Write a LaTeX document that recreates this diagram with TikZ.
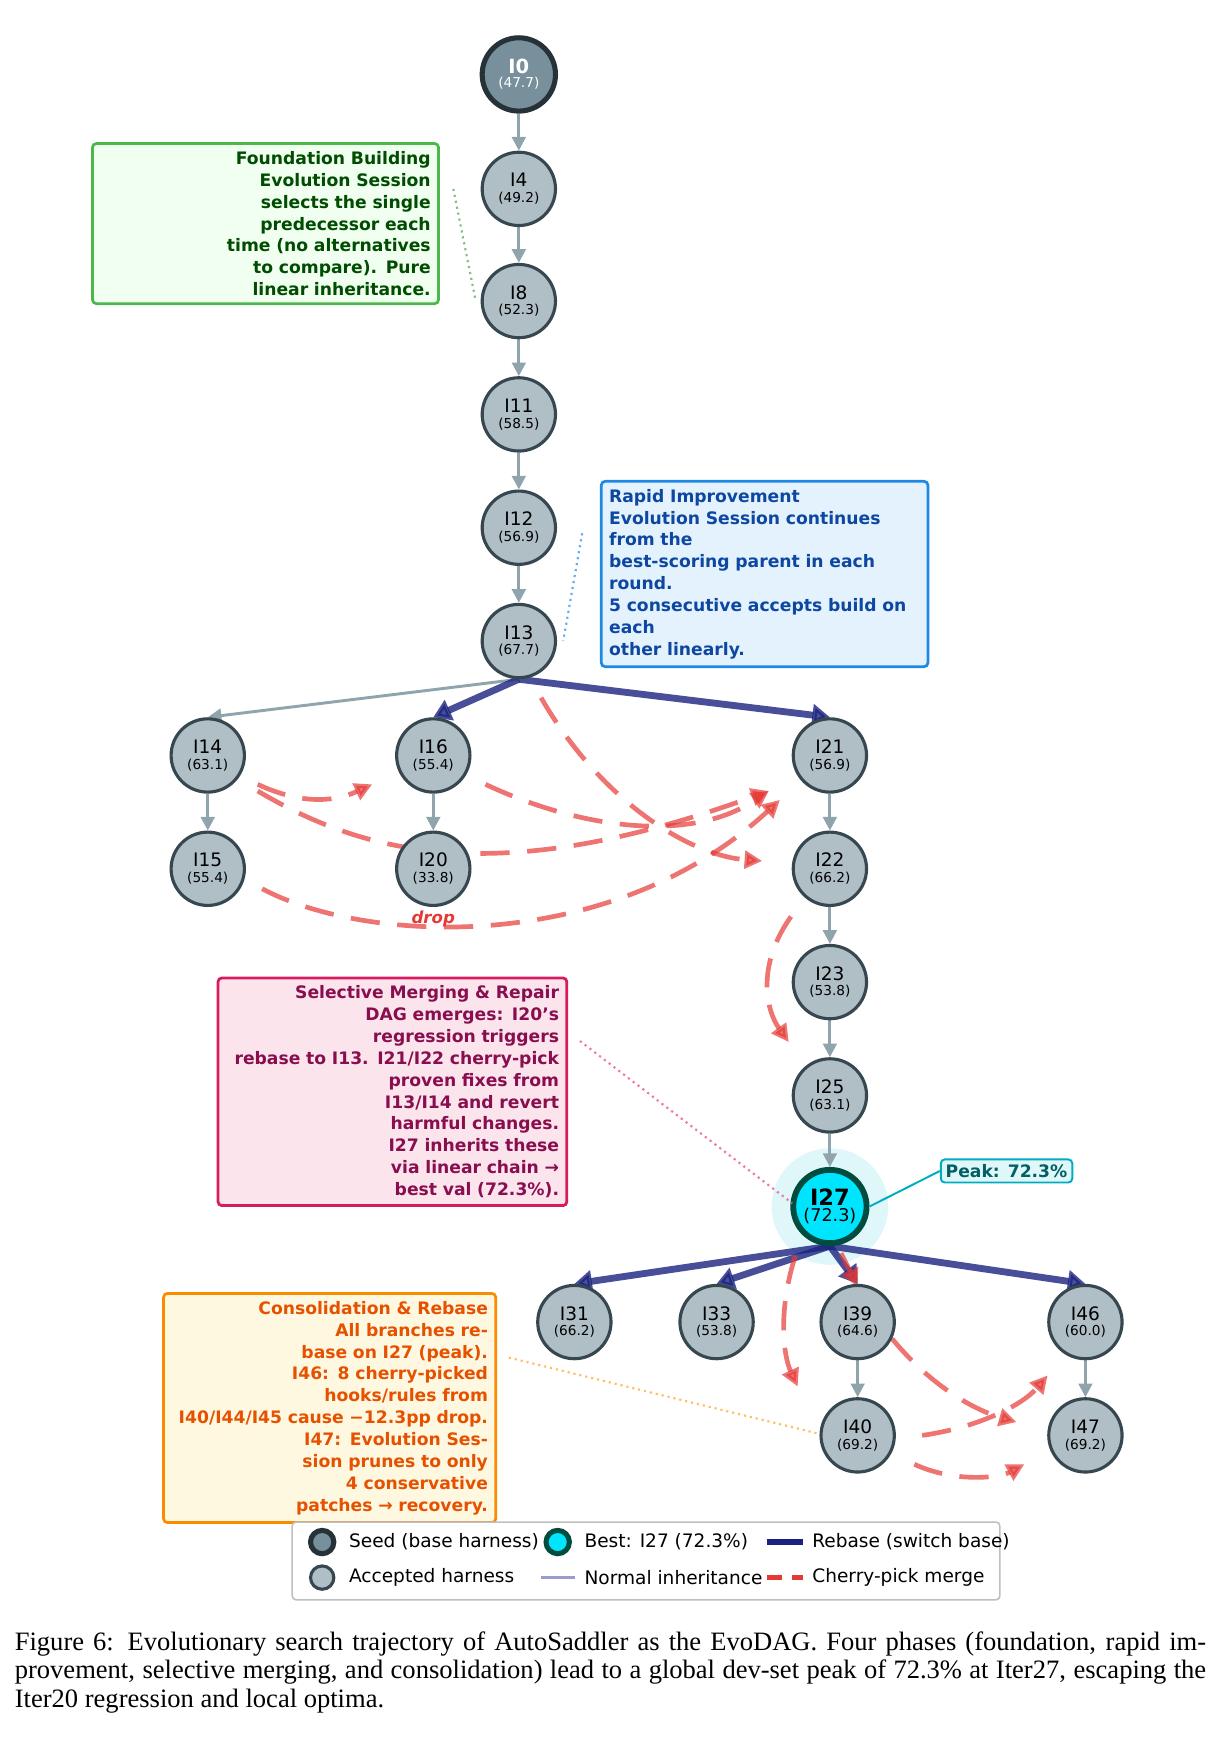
\documentclass[tikz,border=0pt]{standalone}
\usepackage{fontspec}
\setmainfont{DejaVu Sans}
\newfontfamily\capfont{Liberation Serif}
\usetikzlibrary{arrows.meta,calc,backgrounds}

\definecolor{nodefill}{HTML}{B0BEC5}
\definecolor{nodeline}{HTML}{37474F}
\definecolor{seedfill}{HTML}{78909C}
\definecolor{seedline}{HTML}{263238}
\definecolor{bestfill}{HTML}{00E5FF}
\definecolor{bestline}{HTML}{004D40}
\definecolor{halo}{HTML}{E0F7FA}
\definecolor{rebasecol}{HTML}{1A237E}
\definecolor{normcol}{HTML}{90A4AE}
\definecolor{cherrycol}{HTML}{E53935}
\definecolor{peakcol}{HTML}{00ACC1}

\tikzset{
  harness/.style={circle,draw=nodeline,fill=nodefill,line width=1.6pt,minimum size=1.32cm,inner sep=0pt,align=center,font=\fontsize{9.5}{10}\selectfont},
  seed/.style={harness,draw=seedline,fill=seedfill,line width=2.6pt,text=white,font=\bfseries\fontsize{10}{10}\selectfont},
  best/.style={harness,draw=bestline,fill=bestfill,line width=3pt,font=\bfseries\fontsize{11.5}{11}\selectfont},
  normal/.style={draw=normcol,line width=1.5pt,-{Triangle[length=7pt,width=7pt]}},
  rebase/.style={draw=rebasecol,opacity=0.8,line width=3.5pt,-{Triangle[length=9pt,width=11pt]}},
  cherry/.style={draw=cherrycol,opacity=0.7,line width=2.4pt,dash pattern=on 15pt off 9pt,-{Triangle[length=9pt,width=9pt]}},
  note/.style={draw,rounded corners=2pt,line width=1.4pt,inner sep=4pt,font=\bfseries\fontsize{8.8}{11.2}\selectfont},
  link/.style={dotted,line width=1.1pt},
}
\newcommand{\scoreline}[1]{\\[-2pt]{\fontsize{7}{8}\selectfont(#1)}}

\begin{document}
\begin{tikzpicture}[x=0.02cm,y=-0.02cm]
\useasboundingbox (0,0) rectangle (1100,1568);

% nodes
\node[seed] (i0) at (467,67) {I0\\[-3pt]{\mdseries\fontsize{7}{8}\selectfont(47.7)}};
\node[harness] (i4) at (467,170) {I4\scoreline{49.2}};
\node[harness] (i8) at (467,271) {I8\scoreline{52.3}};
\node[harness] (i11) at (467,373) {I11\scoreline{58.5}};
\node[harness] (i12) at (467,475) {I12\scoreline{56.9}};
\node[harness] (i13) at (467,577) {I13\scoreline{67.7}};
\node[harness] (i14) at (187,680) {I14\scoreline{63.1}};
\node[harness] (i16) at (390,680) {I16\scoreline{55.4}};
\node[harness] (i21) at (747,680) {I21\scoreline{56.9}};
\node[harness] (i15) at (187,782) {I15\scoreline{55.4}};
\node[harness] (i20) at (390,782) {I20\scoreline{33.8}};
\node[harness] (i22) at (747,782) {I22\scoreline{66.2}};
\node[harness] (i23) at (747,884) {I23\scoreline{53.8}};
\node[harness] (i25) at (747,986) {I25\scoreline{63.1}};
\node[best] (i27) at (747,1086) {I27\\[-3pt]{\mdseries\fontsize{9}{9}\selectfont(72.3)}};
\node[harness] (i31) at (517,1190) {I31\scoreline{66.2}};
\node[harness] (i33) at (645,1190) {I33\scoreline{53.8}};
\node[harness] (i39) at (772,1190) {I39\scoreline{64.6}};
\node[harness] (i46) at (977,1190) {I46\scoreline{60.0}};
\node[harness] (i40) at (772,1292) {I40\scoreline{69.2}};
\node[harness] (i47) at (977,1292) {I47\scoreline{69.2}};

% edges
\begin{scope}[on background layer]
\fill[halo] (i27) circle (1.05cm);
\foreach \a/\b in {i0/i4,i4/i8,i8/i11,i11/i12,i12/i13,i14/i15,i16/i20,i21/i22,i22/i23,i23/i25,i25/i27,i39/i40,i46/i47}
  \draw[normal] (\a) -- (\b);
\draw[normal] (i13.south) -- (i14.north);
\foreach \b in {i16,i21}
  \draw[rebase] (i13.south) -- (\b.north);
\foreach \b in {i31,i33,i39,i46}
  \draw[rebase] (i27.south) -- (\b.north);
\draw[cherry] (232,706) to[bend right=25] (335,706);
\draw[cherry] (232,712) .. controls (330,770) and (450,800) .. (692,712);
\draw[cherry] (437,706) .. controls (520,745) and (620,760) .. (692,712);
\draw[cherry] (236,800) .. controls (330,850) and (550,860) .. (702,720);
\draw[cherry] (487,628) .. controls (540,720) and (620,770) .. (686,775);
\draw[cherry] (712,825) .. controls (680,870) and (690,910) .. (710,938);
\draw[cherry] (716,1130) .. controls (700,1180) and (705,1220) .. (718,1248);
\draw[cherry] (757,1128) -- (772,1158);
\draw[cherry] (803,1205) .. controls (840,1250) and (880,1270) .. (915,1280);
\draw[cherry] (830,1292) .. controls (880,1285) and (920,1265) .. (943,1238);
\draw[cherry] (823,1318) .. controls (860,1335) and (900,1330) .. (922,1318);
\end{scope}
\node[text=cherrycol,font=\bfseries\itshape\fontsize{8.5}{9}\selectfont] (drop) at (390,827) {drop};

% annotations
\node[note,draw=green!60!black!70,fill=green!6,text=green!30!black,align=right,anchor=north west,text width=5.95cm] (found) at (82,128)
  {Foundation Building\\Evolution Session selects the single\\predecessor each time (no alternatives\\to compare). Pure linear inheritance.};
\draw[link,draw=green!50!black!50] (408,170) -- (428,270);
\node[note,draw={rgb,255:red,30;green,136;blue,229},fill={rgb,255:red,227;green,242;blue,253},text={rgb,255:red,13;green,71;blue,161},align=left,anchor=north west,text width=5.6cm] (rapid) at (540,432)
  {Rapid Improvement\\Evolution Session continues from the\\best-scoring parent in each round.\\5 consecutive accepts build on each\\other linearly.};
\draw[link,draw={rgb,255:red,100;green,170;blue,240}] (524,480) -- (507,577);
\node[note,draw={rgb,255:red,216;green,27;blue,96},fill={rgb,255:red,252;green,228;blue,236},text={rgb,255:red,136;green,14;blue,79},align=right,anchor=north west,text width=6.0cm] (merge) at (195,879)
  {Selective Merging \& Repair\\DAG emerges: I20's regression triggers\\rebase to I13. I21/I22 cherry-pick\\proven fixes from I13/I14 and revert\\harmful changes. I27 inherits these\\via linear chain → best val (72.3\%).};
\draw[link,draw={rgb,255:red,240;green,120;blue,160}] (522,937) -- (713,1083);
\node[note,draw={rgb,255:red,251;green,140;blue,0},fill={rgb,255:red,255;green,248;blue,225},text={rgb,255:red,230;green,81;blue,0},align=right,anchor=north west,text width=5.7cm] (consol) at (146,1163)
  {Consolidation \& Rebase\\All branches rebase on I27 (peak).\\I46: 8 cherry-picked hooks/rules from\\I40/I44/I45 cause −12.3pp drop.\\I47: Evolution Session prunes to only\\4 conservative patches → recovery.};
\draw[link,draw={rgb,255:red,255;green,190;blue,100}] (458,1222) -- (735,1290);
\node[note,draw=peakcol,fill=halo,text={rgb,255:red,0;green,96;blue,100},line width=1pt,inner sep=2.5pt] (peak) at (906,1054) {Peak: 72.3\%};
\draw[draw=peakcol,line width=1pt] (i27.east) -- (peak.west);

% legend
\draw[black!25,line width=0.8pt,rounded corners=2pt,fill=white] (263,1370) rectangle (900,1440);
\begin{scope}[font=\fontsize{9.5}{10}\selectfont]
\node[circle,draw=seedline,fill=seedfill,line width=2.6pt,minimum size=0.42cm] (lseed) at (290,1388) {};
\node[anchor=west] (tseed) at (308,1388) {Seed (base harness)};
\node[circle,draw=nodeline,fill=nodefill,line width=1.6pt,minimum size=0.42cm] (lacc) at (290,1420) {};
\node[anchor=west] (tacc) at (308,1420) {Accepted harness};
\node[circle,draw=bestline,fill=bestfill,line width=2.6pt,minimum size=0.42cm] (lbest) at (502,1388) {};
\node[anchor=west] (tbest) at (520,1388) {Best: I27 (72.3\%)};
\coordinate (n1) at (487,1420); \coordinate (n2) at (518,1420);
\draw[draw=gray!70!blue!60,line width=1.5pt] (n1) -- (n2);
\node[anchor=west] (tnorm) at (520,1420) {Normal inheritance};
\coordinate (r1) at (690,1388); \coordinate (r2) at (723,1388);
\draw[draw=rebasecol,line width=3.5pt] (r1) -- (r2);
\node[anchor=west] (treb) at (725,1388) {Rebase (switch base)};
\coordinate (c1) at (690,1420); \coordinate (c2) at (723,1420);
\draw[draw=cherrycol,line width=2.4pt,dash pattern=on 8pt off 5pt] (c1) -- (c2);
\node[anchor=west] (tcher) at (725,1420) {Cherry-pick merge};
\end{scope}

% caption
\node[anchor=north west,text width=21.45cm,align=justify,inner sep=0pt,font=\capfont\fontsize{13.6}{14.6}\selectfont] (cap) at (13,1468)
  {Figure 6: Evolutionary search trajectory of AutoSaddler as the EvoDAG. Four phases (foundation, rapid improvement, selective merging, and consolidation) lead to a global dev-set peak of 72.3\% at Iter27, escaping the Iter20 regression and local optima.};
\end{tikzpicture}
\end{document}
